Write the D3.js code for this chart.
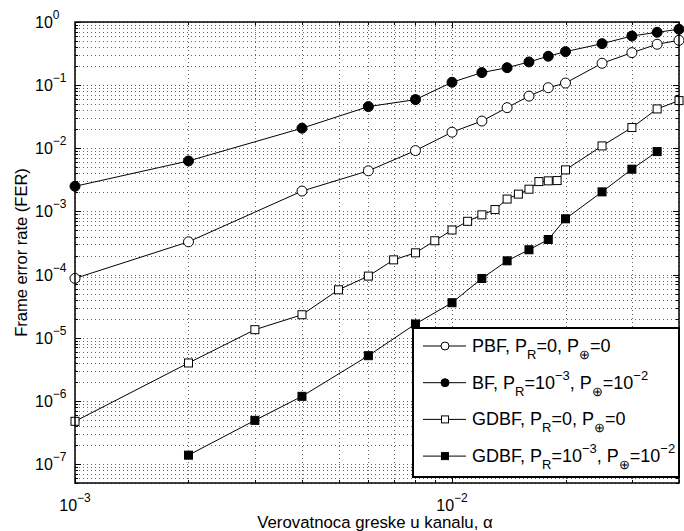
<!DOCTYPE html>
<html>
<head>
<meta charset="utf-8">
<script src="https://cdn.jsdelivr.net/npm/d3@7"></script>
<style>
body { margin: 0; background: #fff; }
text { font-family: "Liberation Sans", Arial, sans-serif; fill: #000; }
</style>
</head>
<body>
<script>
var width = 684, height = 531;

// x values (verovatnoca greske) for the circle curves
var alphaA = [0.001, 0.002, 0.004, 0.006, 0.008, 0.01, 0.012, 0.014, 0.016, 0.018, 0.02, 0.025, 0.03, 0.035, 0.04];
var ferPBF = [8.7e-5, 3.3e-4, 2.1e-3, 4.4e-3, 9.2e-3, 1.8e-2, 2.7e-2, 4.4e-2, 6.7e-2, 9.1e-2, 0.108, 0.222, 0.327, 0.444, 0.513];
var ferBF = [2.5e-3, 6.3e-3, 2.08e-2, 4.57e-2, 5.9e-2, 0.111, 0.158, 0.189, 0.233, 0.287, 0.339, 0.454, 0.60, 0.687, 0.766];

// GDBF, P_R=0
var alphaB = [0.001, 0.002, 0.003, 0.004, 0.005, 0.006, 0.007, 0.008, 0.009, 0.01, 0.011, 0.012, 0.013, 0.014, 0.015, 0.016, 0.017, 0.018, 0.019, 0.02, 0.025, 0.03, 0.035, 0.04];
var ferGDBF = [4.74e-7, 3.98e-6, 1.34e-5, 2.31e-5, 5.74e-5, 9.46e-5, 1.71e-4, 2.21e-4, 3.43e-4, 5.08e-4, 6.97e-4, 8.83e-4, 1.07e-3, 1.57e-3, 1.88e-3, 2.25e-3, 2.97e-3, 3.05e-3, 3.08e-3, 4.55e-3, 1.09e-2, 2.13e-2, 4.2e-2, 5.69e-2];

// GDBF, P_R=10^-3
var alphaC = [0.002, 0.003, 0.004, 0.006, 0.008, 0.01, 0.012, 0.014, 0.016, 0.018, 0.02, 0.025, 0.03, 0.035];
var ferGDBFn = [1.38e-7, 4.91e-7, 1.18e-6, 5.19e-6, 1.65e-5, 3.58e-5, 8.67e-5, 1.65e-4, 2.47e-4, 3.59e-4, 7.64e-4, 2.04e-3, 4.67e-3, 8.87e-3];

var xTickExp = [-3, -2];
var yTickExp = [0, -1, -2, -3, -4, -5, -6, -7];

var legendLabels = [
    [{t: "PBF, P"}, {t: "R", s: "sub"}, {t: "=0, P"}, {t: "\u2295", s: "sub"}, {t: "=0"}],
    [{t: "BF, P"}, {t: "R", s: "sub"}, {t: "=10"}, {t: "\u22123", s: "sup"}, {t: ", P"}, {t: "\u2295", s: "sub"}, {t: "=10"}, {t: "\u22122", s: "sup"}],
    [{t: "GDBF, P"}, {t: "R", s: "sub"}, {t: "=0, P"}, {t: "\u2295", s: "sub"}, {t: "=0"}],
    [{t: "GDBF, P"}, {t: "R", s: "sub"}, {t: "=10"}, {t: "\u22123", s: "sup"}, {t: ", P"}, {t: "\u2295", s: "sub"}, {t: "=10"}, {t: "\u22122", s: "sup"}]
];

var series = [
    {xs: alphaA, ys: ferPBF, shape: "circle", fill: "#fff"},
    {xs: alphaA, ys: ferBF, shape: "circle", fill: "#000"},
    {xs: alphaB, ys: ferGDBF, shape: "square", fill: "#fff"},
    {xs: alphaC, ys: ferGDBFn, shape: "square", fill: "#000"}
];

var pL = 75, pT = 22, pR = 679, pB = 483;

var x = d3.scaleLog().domain([1e-3, 0.04]).range([pL, pR]);
var y = d3.scaleLog().domain([5e-8, 1]).range([pB, pT]);

var svg = d3.select("body").append("svg")
    .attr("width", width)
    .attr("height", height);

// log ticks (major + minor)
var xTicks = x.ticks();
var yTicks = y.ticks();
function isMajor(v) { return Math.abs(Math.log10(v) - Math.round(Math.log10(v))) < 1e-9; }

// dotted grid
var grid = svg.append("g").attr("stroke", "#666").attr("stroke-width", 1).attr("stroke-dasharray", "1,3");
grid.selectAll("line.gx").data(xTicks).enter().append("line")
    .attr("x1", function(d) { return Math.round(x(d)) + 0.5; })
    .attr("x2", function(d) { return Math.round(x(d)) + 0.5; })
    .attr("y1", pT).attr("y2", pB);
grid.selectAll("line.gy").data(yTicks).enter().append("line")
    .attr("y1", function(d) { return Math.round(y(d)) + 0.5; })
    .attr("y2", function(d) { return Math.round(y(d)) + 0.5; })
    .attr("x1", pL).attr("x2", pR);

// tick marks on all 4 sides, pointing inward
var tk = svg.append("g").attr("stroke", "#000").attr("stroke-width", 1);
xTicks.forEach(function(d) {
    var len = isMajor(d) ? 6 : 3;
    var px = Math.round(x(d)) + 0.5;
    tk.append("line").attr("x1", px).attr("x2", px).attr("y1", pB).attr("y2", pB - len);
    tk.append("line").attr("x1", px).attr("x2", px).attr("y1", pT).attr("y2", pT + len);
});
yTicks.forEach(function(d) {
    var len = isMajor(d) ? 6 : 3;
    var py = Math.round(y(d)) + 0.5;
    tk.append("line").attr("y1", py).attr("y2", py).attr("x1", pL).attr("x2", pL + len);
    tk.append("line").attr("y1", py).attr("y2", py).attr("x1", pR).attr("x2", pR - len);
});

// series lines + markers
var line = d3.line()
    .x(function(d) { return x(d[0]); })
    .y(function(d) { return y(d[1]); });

series.forEach(function(s) {
    var pts = s.xs.map(function(v, i) { return [v, s.ys[i]]; });
    svg.append("path").datum(pts)
        .attr("d", line)
        .attr("fill", "none")
        .attr("stroke", "#000")
        .attr("stroke-width", 1);
    var g = svg.append("g");
    if (s.shape == "circle") {
        g.selectAll("circle").data(pts).enter().append("circle")
            .attr("cx", function(d) { return x(d[0]); })
            .attr("cy", function(d) { return y(d[1]); })
            .attr("r", 5)
            .attr("fill", s.fill)
            .attr("stroke", "#000");
    } else {
        g.selectAll("rect").data(pts).enter().append("rect")
            .attr("x", function(d) { return x(d[0]) - 4; })
            .attr("y", function(d) { return y(d[1]) - 4; })
            .attr("width", 8).attr("height", 8)
            .attr("fill", s.fill)
            .attr("stroke", "#000");
    }
});

// plot frame
svg.append("rect")
    .attr("x", pL).attr("y", pT)
    .attr("width", pR - pL).attr("height", pB - pT)
    .attr("fill", "none").attr("stroke", "#000").attr("stroke-width", 1.5);

// tick labels
xTickExp.forEach(function(e) {
    var t = svg.append("text")
        .attr("x", x(Math.pow(10, e)))
        .attr("y", 511)
        .attr("text-anchor", "middle")
        .style("font-size", "16px");
    t.append("tspan").text("10");
    t.append("tspan").attr("dy", -9).style("font-size", "12px").text("\u2212" + Math.abs(e));
});
yTickExp.forEach(function(e) {
    var t = svg.append("text")
        .attr("x", 35)
        .attr("y", y(Math.pow(10, e)) + 6)
        .style("font-size", "16px");
    t.append("tspan").text("10");
    t.append("tspan").attr("dy", -9).style("font-size", "12px").text(e == 0 ? "0" : "\u2212" + Math.abs(e));
});

// axis titles
svg.append("text")
    .attr("x", 375)
    .attr("y", 528)
    .attr("text-anchor", "middle")
    .style("font-size", "16.8px")
    .text("Verovatnoca greske u kanalu, \u03b1");

svg.append("text")
    .attr("transform", "translate(27," + ((pT + pB) / 2) + ") rotate(-90)")
    .attr("text-anchor", "middle")
    .style("font-size", "16.5px")
    .text("Frame error rate (FER)");

// legend
var lgX = 413, lgY = 328, lgW = pR - lgX, lgH = 149;
var lg = svg.append("g");
lg.append("rect")
    .attr("x", lgX).attr("y", lgY)
    .attr("width", lgW).attr("height", lgH)
    .attr("fill", "#fff").attr("stroke", "#000").attr("stroke-width", 2);

series.forEach(function(s, i) {
    var cy = 346 + i * 36.7;
    lg.append("line")
        .attr("x1", 423).attr("x2", 466)
        .attr("y1", cy).attr("y2", cy)
        .attr("stroke", "#000");
    if (s.shape == "circle") {
        lg.append("circle").attr("cx", 445).attr("cy", cy).attr("r", 4)
            .attr("fill", s.fill).attr("stroke", "#000");
    } else {
        lg.append("rect").attr("x", 441.5).attr("y", cy - 3.5).attr("width", 7).attr("height", 7)
            .attr("fill", s.fill).attr("stroke", "#000");
    }
    var t = lg.append("text").attr("x", 472).attr("y", cy + 6).style("font-size", "18px");
    var shift = 0;
    legendLabels[i].forEach(function(p) {
        var want = p.s == "sub" ? 7 : (p.s == "sup" ? -9 : 0);
        t.append("tspan")
            .attr("dy", want - shift)
            .style("font-size", p.s ? "13px" : "18px")
            .text(p.t);
        shift = want;
    });
});
</script>
</body>
</html>
